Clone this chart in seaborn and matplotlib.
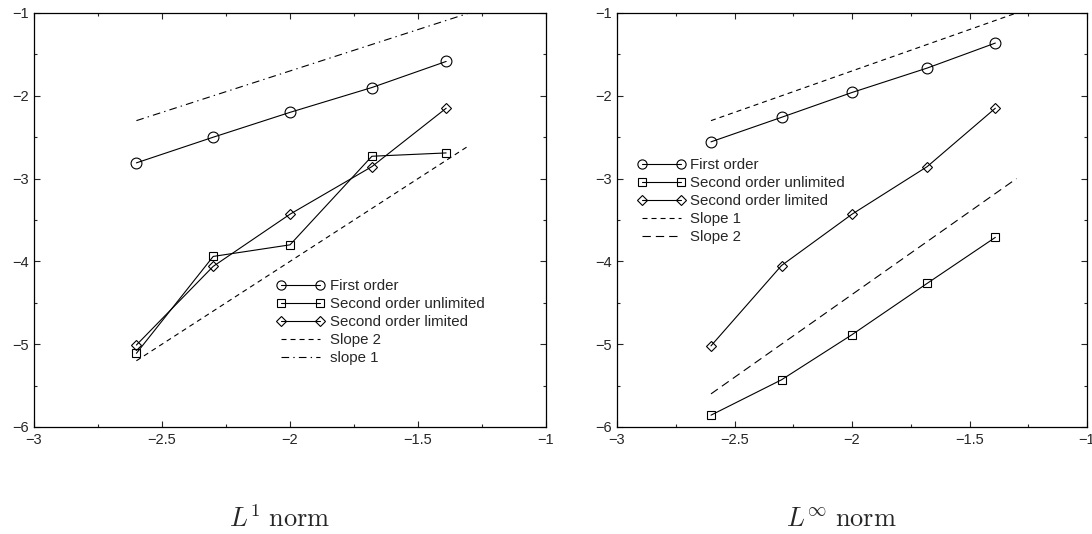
import matplotlib
matplotlib.use("Agg")
import matplotlib.pyplot as plt
from matplotlib.ticker import MultipleLocator
from matplotlib.lines import Line2D
import seaborn as sns
import pandas as pd

# ---- data ----
log_h = [-2.6, -2.3, -2.0, -1.68, -1.39]

l1_first = [-2.81, -2.50, -2.20, -1.90, -1.585]
l1_second_unlim = [-5.11, -3.94, -3.80, -2.73, -2.69]
l1_second_lim = [-5.01, -4.06, -3.43, -2.855, -2.15]

linf_first = [-2.556, -2.26, -1.96, -1.665, -1.363]
linf_second_unlim = [-5.857, -5.43, -4.885, -4.265, -3.71]
linf_second_lim = [-5.02, -4.05, -3.43, -2.855, -2.15]

ref_x = [-2.6, -1.3]
l1_slope2 = [-5.2, -2.6]
l1_slope1 = [-2.3, -1.0]
linf_slope1 = [-2.3, -1.0]
linf_slope2 = [-5.6, -3.0]

xticks = [-3, -2.5, -2, -1.5, -1]
yticks = [-6, -5, -4, -3, -2, -1]
panel_titles = [r"$L^1\ \mathrm{norm}$", r"$L^{\infty}\ \mathrm{norm}$"]

# ---- style ----
sns.set_style("ticks")
plt.rcParams["font.family"] = ["Liberation Sans", "DejaVu Sans"]
plt.rcParams["mathtext.fontset"] = "cm"
plt.rcParams["lines.scale_dashes"] = False
plt.rcParams["axes.linewidth"] = 0.9

W, H = 1092, 534
fig = plt.figure(figsize=(W / 100, H / 100), dpi=100)
axL = fig.add_axes([34 / W, (H - 427) / H, 512 / W, 414 / H])
axR = fig.add_axes([617 / W, (H - 427) / H, 470 / W, 414 / H])

LW = 0.8
SHORT = (0, (3.6, 2.9))
LONG = (0, (6.0, 3.6))
DASHDOT = (0, (5.5, 3.0, 1.0, 3.0))

series_style = {
    "First order": dict(marker="o", markersize=7.8),
    "Second order unlimited": dict(marker="s", markersize=6.3),
    "Second order limited": dict(marker="D", markersize=5.6),
}


def draw_series(ax, y, name):
    df = pd.DataFrame({"x": log_h, "y": y})
    st = series_style[name]
    sns.lineplot(data=df, x="x", y="y", ax=ax, color="black", lw=LW,
                 marker=st["marker"], markersize=st["markersize"],
                 markerfacecolor="none", markeredgecolor="black",
                 markeredgewidth=LW, sort=False, legend=False)


def draw_ref(ax, y, ls):
    df = pd.DataFrame({"x": ref_x, "y": y})
    sns.lineplot(data=df, x="x", y="y", ax=ax, color="black", lw=LW,
                 linestyle=ls, sort=False, legend=False)


def handle(name=None, ls="-"):
    if name is None:
        return Line2D([], [], color="black", lw=LW, linestyle=ls)
    st = series_style[name]
    return Line2D([], [], color="black", lw=LW, marker=st["marker"],
                  markersize=st["markersize"] * 0.85, markerfacecolor="none",
                  markeredgecolor="black", markeredgewidth=LW)


# left panel
draw_series(axL, l1_first, "First order")
draw_series(axL, l1_second_unlim, "Second order unlimited")
draw_series(axL, l1_second_lim, "Second order limited")
draw_ref(axL, l1_slope2, SHORT)
draw_ref(axL, l1_slope1, DASHDOT)
hL = [handle("First order"), handle("Second order unlimited"),
      handle("Second order limited"), handle(ls=SHORT), handle(ls=DASHDOT)]
labL = ["First order", "Second order unlimited", "Second order limited",
        "Slope 2", "slope 1"]

# right panel
draw_series(axR, linf_first, "First order")
draw_series(axR, linf_second_unlim, "Second order unlimited")
draw_series(axR, linf_second_lim, "Second order limited")
draw_ref(axR, linf_slope1, SHORT)
draw_ref(axR, linf_slope2, LONG)
hR = [handle("First order"), handle("Second order unlimited"),
      handle("Second order limited"), handle(ls=SHORT), handle(ls=LONG)]
labR = ["First order", "Second order unlimited", "Second order limited",
        "Slope 1", "Slope 2"]

leg_kw = dict(frameon=False, numpoints=2, handlelength=3.2,
              handletextpad=0.35, labelspacing=0.27, borderpad=0,
              borderaxespad=0, loc="upper left", fontsize=10.8)
axL.legend(hL, labL, bbox_to_anchor=(0.4746, 0.357), **leg_kw)
axR.legend(hR, labR, bbox_to_anchor=(0.043, 0.650), **leg_kw)

for ax in (axL, axR):
    ax.set_xlim(-3, -1)
    ax.set_ylim(-6, -1)
    ax.set_xticks(xticks)
    ax.set_yticks(yticks)
    ax.set_xticklabels([f"{t:g}".replace("-", "\u2212") for t in xticks])
    ax.set_yticklabels([f"{t:g}".replace("-", "\u2212") for t in yticks])
    ax.xaxis.set_minor_locator(MultipleLocator(0.25))
    ax.yaxis.set_minor_locator(MultipleLocator(0.5))
    ax.tick_params(which="both", direction="in", top=True, right=True,
                   labelsize=10.5, width=0.8, pad=4)
    ax.tick_params(which="major", length=4.5)
    ax.tick_params(which="minor", length=2.5)
    ax.set_xlabel("")
    ax.set_ylabel("")
    for s in ax.spines.values():
        s.set_visible(True)
        s.set_color("black")

fig.text(280 / W, 7 / H, panel_titles[0], ha="center", va="baseline",
         fontsize=19)
fig.text(841 / W, 7 / H, panel_titles[1], ha="center", va="baseline",
         fontsize=19)

fig.savefig("out.png", dpi=100)
